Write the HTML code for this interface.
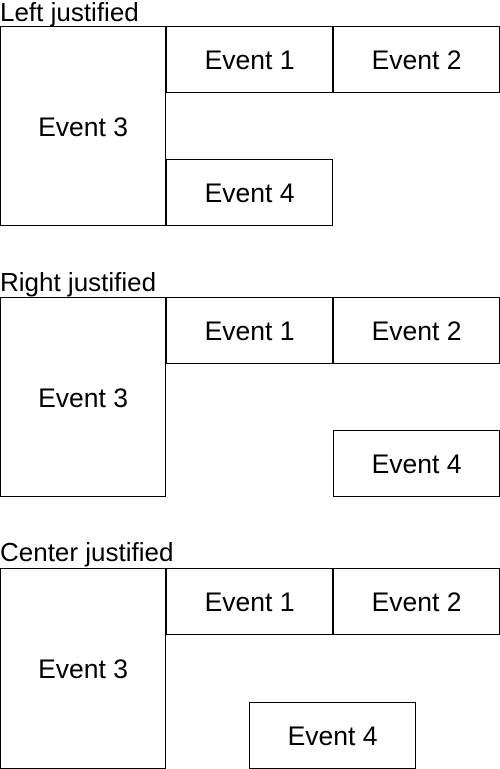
<!DOCTYPE html>
<html><head><style>
body{margin:0;width:500px;height:769px;background:#fff;position:relative;overflow:hidden;font-family:"Liberation Sans",Arial,sans-serif;}
.b{position:absolute;box-sizing:border-box;border:1px solid #000;display:flex;align-items:center;justify-content:center;font-size:26.5px;padding-top:2px;color:#000;background:#fff;}
.t{position:absolute;left:0;font-size:26px;line-height:26px;color:#000;}
</style></head><body>
<div class="t" style="top:-1px">Left justified</div>
<div class="b" style="left:0;top:26px;width:166px;height:200px">Event 3</div>
<div class="b" style="left:166px;top:26px;width:167px;height:67px">Event 1</div>
<div class="b" style="left:333px;top:26px;width:167px;height:67px">Event 2</div>
<div class="b" style="left:166px;top:159px;width:167px;height:67px">Event 4</div>

<div class="t" style="top:269px">Right justified</div>
<div class="b" style="left:0;top:297px;width:166px;height:200px">Event 3</div>
<div class="b" style="left:166px;top:297px;width:167px;height:67px">Event 1</div>
<div class="b" style="left:333px;top:297px;width:167px;height:67px">Event 2</div>
<div class="b" style="left:333px;top:430px;width:167px;height:67px">Event 4</div>

<div class="t" style="top:539px">Center justified</div>
<div class="b" style="left:0;top:568px;width:166px;height:201px">Event 3</div>
<div class="b" style="left:166px;top:568px;width:167px;height:67px">Event 1</div>
<div class="b" style="left:333px;top:568px;width:167px;height:67px">Event 2</div>
<div class="b" style="left:249px;top:702px;width:167px;height:67px">Event 4</div>
</body></html>
